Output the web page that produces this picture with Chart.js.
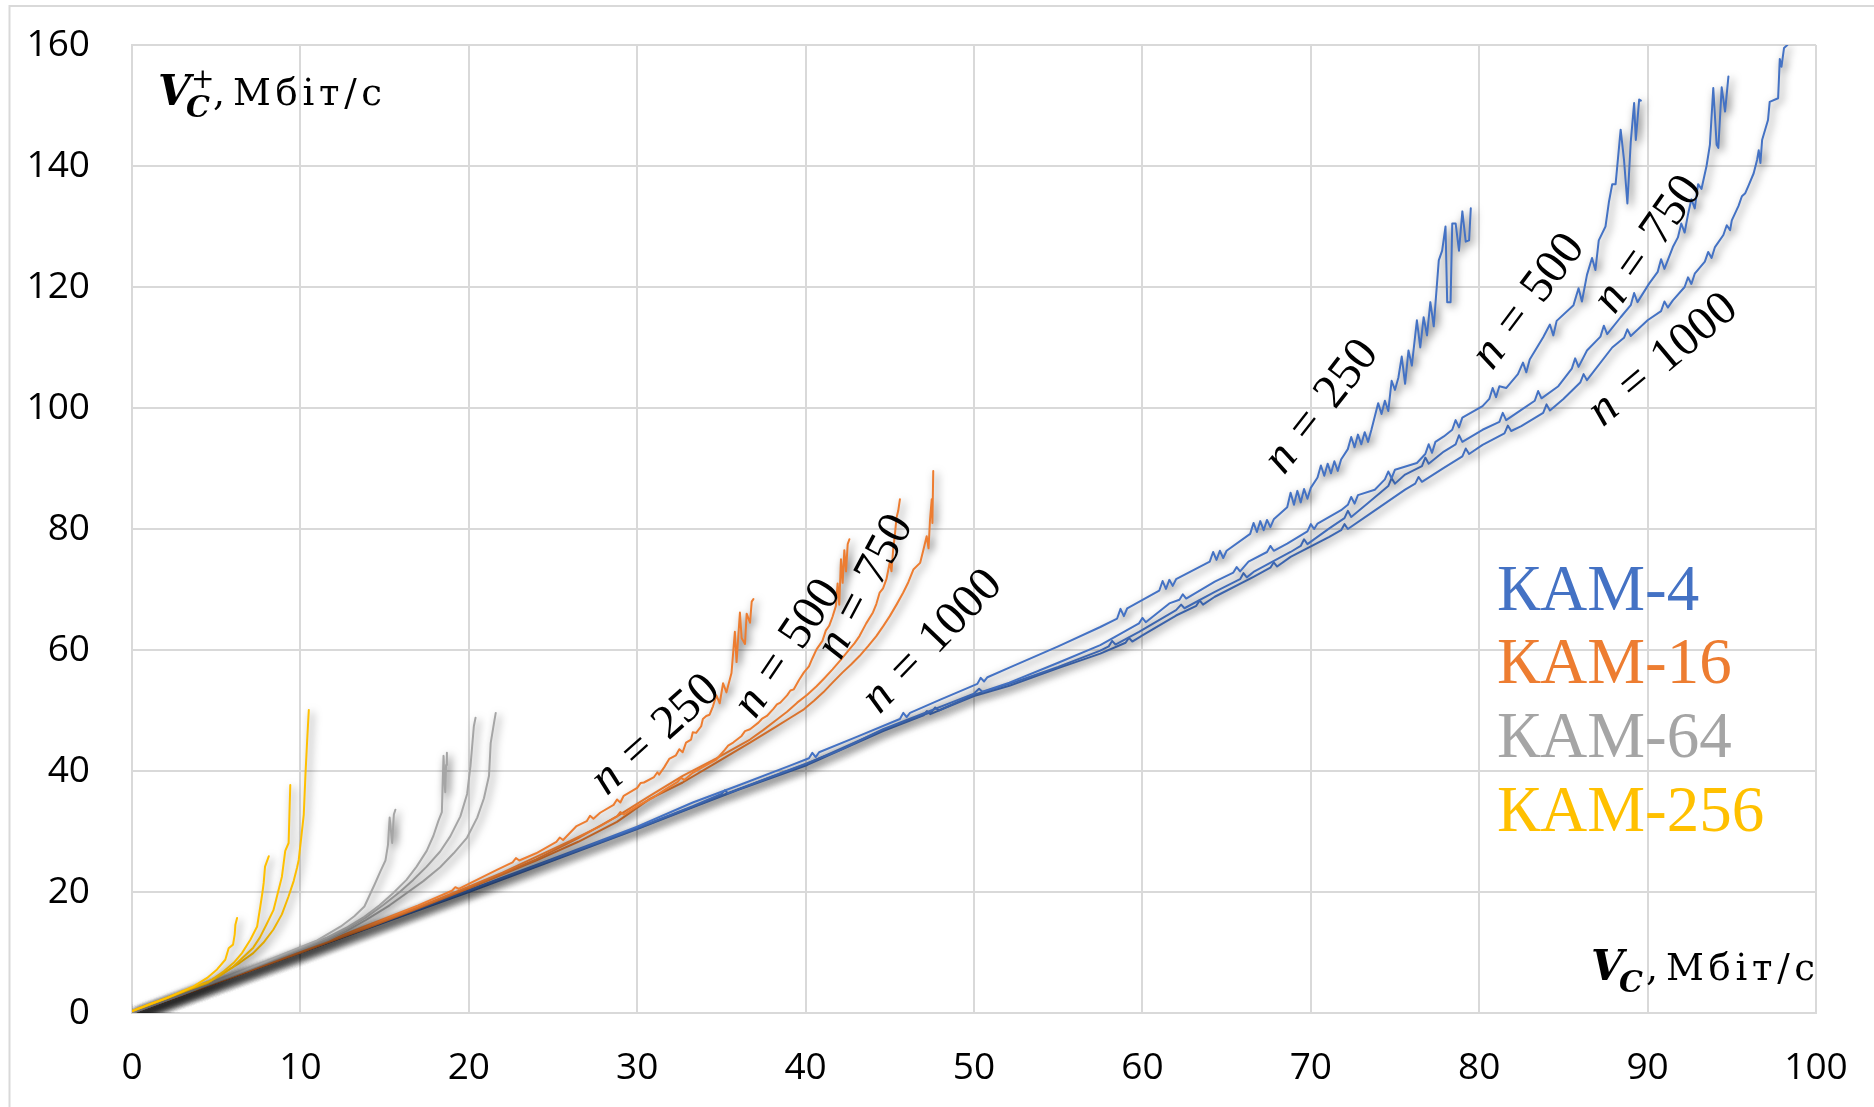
<!DOCTYPE html>
<html>
<head>
<meta charset="utf-8">
<script src="https://cdn.jsdelivr.net/npm/chart.js@4.4.0/dist/chart.umd.min.js"></script>
<style>
html,body{margin:0;padding:0;background:#fff;}
#wrap{position:relative;width:1874px;height:1107px;}
</style>
</head>
<body>
<div id="wrap"><canvas id="c" width="1874" height="1107"></canvas></div>
<script>
// ---------- tick labels ----------
const xTickValues = [0,10,20,30,40,50,60,70,80,90,100];
const yTickValues = [0,20,40,60,80,100,120,140,160];
const nValues = [250,500,750,1000];
const seriesNames = ['КАМ-4','КАМ-16','КАМ-64','КАМ-256'];

// ---------- КАМ-4 (V_C, V_C+) ----------
const kam4_250 = [[0,0],[5,5],[10,10.1],[15,15.2],[20,20.3],[25,25.5],[30,30.8],[33.3,34.8],[36,37.6],[39,40.8],[40.2,42.1],[40.4,43],[40.6,42.3],[40.8,43.1],[43,45.6],[45.6,48.6],[45.8,49.6],[46,48.9],[46.2,49.6],[48,51.8],[50.2,54.4],[50.4,55.4],[50.6,54.8],[50.8,55.5],[52.1,57.1],[55,60.6],[57.5,63.8],[58.5,65.2],[58.7,66.8],[58.9,65.6],[59.1,66.9],[61,69.8],[61.2,71.4],[61.4,70.1],[61.6,71.6],[61.8,70.6],[62,71.7],[64,74.6],[64.2,76.2],[64.4,74.9],[64.6,76.4],[64.8,75.2],[65,76.4],[66.4,79.2],[66.6,81],[66.8,79.5],[67,81.3],[67.2,79.8],[67.4,81.5],[67.6,80.3],[67.8,81.6],[68.6,83.6],[68.8,86],[69,84],[69.2,86.3],[69.4,84.4],[69.6,86.6],[69.8,85],[70,86.8],[70.4,88.5],[70.6,90.5],[70.8,88.8],[71,90.8],[71.2,89.2],[71.4,91.2],[71.6,89.6],[71.8,91.5],[72.2,93.2],[72.4,95.2],[72.6,93.5],[72.8,95.6],[73,94],[73.2,96],[73.4,94.4],[73.6,96.4],[73.8,98.6],[74,100.8],[74.2,99],[74.4,101.2],[74.6,99.5],[74.8,104.5],[75,103],[75.2,105],[75.4,108.5],[75.6,104],[75.8,109.5],[76,107],[76.3,114.5],[76.5,110],[76.7,115],[76.9,112],[77.1,117.5],[77.3,113.5],[77.6,124.4],[77.8,126],[78,130],[78.1,117.5],[78.3,117.5],[78.4,130.5],[78.6,130.5],[78.8,126],[79,132.5],[79.2,127.5],[79.4,127.7],[79.5,133]];
const kam4_500 = [[0,0],[10,10],[20,20.2],[30,30.6],[33.3,34.2],[35,36.2],[35.2,36.8],[35.4,36.3],[38,39.1],[40.1,41.3],[42,43.4],[44.6,46.9],[47,49.5],[50,52.8],[50.3,53.6],[50.5,53.1],[52.1,54.6],[55,57.9],[57.5,60.8],[59.8,64.4],[60,65.3],[60.2,64.6],[61.6,67.7],[62.2,68.3],[62.4,69.2],[62.6,68.5],[64.3,71.3],[65.4,72.8],[65.6,73.7],[65.8,73],[66.3,74.6],[67.4,76.2],[67.6,77.2],[67.8,76.4],[68.6,77.6],[69.8,79.6],[70,80.8],[70.2,80],[70.4,80.9],[71.8,83.1],[72.2,84],[72.4,85.3],[72.6,84.2],[72.8,85.6],[73.8,86.5],[74.4,88.2],[74.6,89.5],[74.8,88.4],[75,89.8],[76.3,90.9],[76.8,92.4],[77,94],[77.2,92.6],[77.4,94.4],[77.9,95.3],[78.4,96.4],[78.6,98],[78.8,96.8],[79,98.4],[80.2,100.3],[80.6,101.5],[80.8,103.3],[81,101.8],[81.2,103.6],[81.6,103.3],[82.3,105.6],[82.6,107.5],[82.8,105.9],[83,108],[83.8,111.7],[84.2,113.8],[84.4,112],[84.6,114.4],[85.6,117],[85.9,119.8],[86.1,117.6],[86.4,122],[86.7,124.8],[86.9,122.8],[87.1,127.7],[87.5,130],[87.7,134],[87.9,137],[88.1,137],[88.4,146],[88.6,141],[88.8,133.8],[89,144],[89.2,150.4],[89.3,144.3],[89.5,151],[89.6,150.8]];
const kam4_750 = [[0,0],[10,10],[20,20.1],[30,30.5],[33.3,34.1],[36,37],[40.1,41.2],[44.6,46.8],[47.5,49.8],[47.7,50.5],[47.9,50],[50,52.6],[52.1,54.4],[55,57.2],[57.5,59.9],[58,60.6],[58.2,61.5],[58.4,60.9],[59.8,63],[62,66.6],[62.3,67.5],[62.5,66.9],[64.3,69.6],[65.8,71.7],[66,72.7],[66.2,72],[66.6,72.9],[68.8,76.2],[69.4,77.2],[69.6,78.3],[69.8,77.5],[71.1,80.1],[72,81.8],[72.2,83],[72.4,82],[73.4,84.3],[74.6,87.1],[74.8,88.4],[75,87.5],[75.6,89],[76.6,90.4],[76.8,91.8],[77,90.8],[77.9,92.8],[78.6,94],[78.8,95.5],[79,94.4],[80.2,96.4],[81.2,97.7],[81.4,99.2],[81.6,98],[82.5,99.7],[83.3,101.2],[83.5,102.8],[83.7,101.6],[84.7,103.6],[85.5,106.5],[85.7,108.2],[85.9,106.8],[86.4,109.5],[87.2,111.8],[87.4,113.6],[87.6,112.2],[88.4,115],[89,117],[89.2,119],[89.4,117.5],[90.1,120.6],[90.6,122.5],[90.8,124.6],[91,123],[91.5,126.6],[91.8,128.2],[92,130.5],[92.2,129],[92.4,132],[92.6,134.5],[92.8,133],[93,137],[93.2,136.2],[93.5,140],[93.7,143.5],[93.9,152.9],[94.1,143.5],[94.2,143],[94.4,153],[94.6,149],[94.8,154.8]];
const kam4_1000 = [[0,0],[10,10],[20,20],[30,30.4],[33.3,34],[36,36.9],[40.1,41],[44.6,46.6],[47,49.2],[47.2,49.9],[47.4,49.4],[50,52.4],[52.1,54.1],[55,57],[57.5,59.4],[59,61.2],[59.2,62],[59.4,61.4],[60,62.4],[62,65.7],[63.2,67.3],[63.4,68.2],[63.6,67.5],[64.3,68.8],[66.6,72.1],[67.6,73.6],[67.8,74.5],[68,73.8],[68.8,75.4],[71.1,78.7],[71.8,79.8],[72,80.8],[72.2,80],[73.4,82.3],[75.6,86.5],[76.2,87.5],[76.4,88.6],[76.6,87.8],[77.9,90.1],[79,92],[79.2,93.3],[79.4,92.4],[80.2,93.9],[81.5,95.8],[81.7,97.1],[81.9,96.2],[82.5,97],[83.8,99.2],[84,100.6],[84.2,99.6],[85,101.5],[86,104.2],[86.2,105.6],[86.4,104.6],[87.9,110],[88.6,111.6],[88.8,113],[89,111.9],[90,114.5],[90.8,116],[91,117.6],[91.2,116.6],[91.5,117.8],[92.2,120],[92.4,121.6],[92.6,120.5],[92.8,122.2],[93.4,124.2],[93.6,125.8],[93.8,124.8],[94,126.6],[94.5,128.6],[94.7,130.2],[94.9,129.4],[95,131],[95.4,133.4],[95.6,135],[95.8,135.5],[96,136.8],[96.3,138.8],[96.5,141],[96.6,142.6],[96.7,140.5],[96.8,144.3],[97.15,147.6],[97.25,150.6],[97.75,151.2],[97.85,157.7],[97.95,156.4],[98.1,159.5],[98.3,160]];

// ---------- КАМ-16 ----------
const kam16_250 = [[0,0],[5,5],[10,10.1],[14,14.5],[17,17.8],[19,20.2],[19.2,20.8],[19.4,20.5],[21.7,23.7],[22.6,24.9],[22.8,25.6],[23,25.2],[24,26.4],[25.2,28.3],[25.4,29],[25.6,28.6],[26.4,30.9],[27,31.7],[27.2,32.6],[27.4,32.1],[27.8,33.1],[28.6,34.4],[28.8,35.3],[29,34.8],[29.2,35.9],[30,37.2],[30.2,38],[30.4,38.1],[31,39],[31.2,39.8],[31.3,39.4],[31.6,40.6],[31.9,42],[32.3,42.6],[32.5,43.6],[32.7,43.1],[32.9,44.7],[33.2,45.2],[33.3,46.4],[33.5,46.3],[33.8,47.4],[33.9,48.6],[34.1,49.1],[34.3,49.3],[34.5,50.7],[34.7,52.5],[34.9,51.2],[35.1,54.5],[35.3,53],[35.6,56.2],[35.8,63],[35.9,58],[36.1,66.2],[36.2,62],[36.4,61],[36.5,66],[36.7,64.5],[36.8,68],[36.9,68.4]];
const kam16_500 = [[0,0],[5,5],[10,10],[14,14.3],[17,17.5],[20,20.9],[22,23.2],[24,25.8],[26,28.4],[27.8,30.9],[28.8,32.5],[29,33.2],[29.2,32.8],[30,34.2],[31,35.7],[31.7,37],[32.4,38.2],[32.6,38.9],[32.8,38.5],[33.3,39.7],[34,40.8],[34.7,41.9],[35.2,43.5],[35.4,44.2],[35.7,44.7],[36.2,45.8],[36.4,46.6],[36.7,46.9],[37.2,48],[37.4,48.6],[37.7,49.1],[38.1,50.3],[38.3,51],[38.5,51.3],[38.9,52.5],[39.1,53.3],[39.3,53.5],[39.6,55],[39.9,56.3],[40.2,57.3],[40.4,58.6],[40.65,60.1],[41,61.5],[41.2,63.2],[41.4,64],[41.6,65.5],[41.8,67.3],[41.9,71],[42,67.5],[42.1,75],[42.2,71.1],[42.3,76.5],[42.4,73],[42.5,77.5],[42.6,78.3]];
const kam16_750 = [[0,0],[5,5],[10,10],[14,14.2],[17,17.4],[20,20.7],[24,25.4],[26.5,28.9],[28.8,32.5],[30.75,35.9],[32.7,39.2],[34.7,42.1],[36.7,45.2],[37.5,46.8],[38.3,48.5],[38.9,49.8],[39.5,51.3],[40.1,52.6],[40.65,54],[41.1,55.3],[41.6,56.8],[42.1,58.4],[42.6,60.1],[42.9,61.1],[43.2,62.3],[43.6,64.4],[44,66.2],[44.2,67.6],[44.4,69.5],[44.6,70.2],[44.8,71.7],[45,74.5],[45.1,73],[45.2,76.6],[45.3,79],[45.4,81.9],[45.5,83],[45.6,84.9]];
const kam16_1000 = [[0,0],[5,5],[10,10],[14,14.1],[17,17.3],[20,20.6],[24,25.2],[26.5,28.3],[28.8,31.6],[30.75,35.4],[32.7,38.1],[34.7,41.4],[36.7,44.7],[38.3,47.4],[39.1,48.8],[39.9,50.2],[40.5,51.6],[41.05,53],[41.6,54.6],[42.2,56.3],[42.7,57.6],[43.2,59],[43.7,60.6],[44.2,62.3],[44.6,63.9],[45,65.6],[45.4,67.5],[45.8,69.5],[46.1,71.2],[46.4,73.3],[46.8,74.4],[47,76.6],[47.19,78.8],[47.3,76.8],[47.39,81.6],[47.49,84.9],[47.53,81],[47.58,89.6]];

// ---------- КАМ-64 ----------
const kam64_250 = [[0,0],[3,3.1],[6,6.4],[8,8.6],[10,10.9],[11,12],[11.6,13],[12.4,14.3],[13.2,16],[13.8,17.6],[14.2,20],[14.4,21.2],[14.75,23.4],[15.05,25.2],[15.2,27.8],[15.3,32.3],[15.4,29.5],[15.45,28.1],[15.55,32.8],[15.64,33.6]];
const kam64_500 = [[0,0],[3,3.1],[6,6.3],[8,8.5],[10,10.7],[11.6,12.5],[12.8,14.2],[13.8,15.9],[14.7,17.8],[15.5,19.8],[16.3,22],[16.9,24.2],[17.5,26.8],[17.9,29.3],[18.2,31.8],[18.4,33.2],[18.45,38],[18.5,42.5],[18.55,38.6],[18.6,36.5],[18.65,41],[18.7,43]];
const kam64_750 = [[0,0],[3,3.1],[6,6.2],[8,8.4],[10,10.5],[11.6,12.2],[12.7,13.8],[13.9,15.8],[14.9,17.8],[15.9,20],[16.7,22],[17.5,24.2],[18.3,26.7],[18.9,29.2],[19.5,32.5],[19.9,36.2],[20.1,40.8],[20.3,47.4],[20.4,48.8]];
const kam64_1000 = [[0,0],[3,3.1],[6,6.2],[8,8.3],[10,10.4],[11.6,12],[12.7,13.5],[13.9,15.4],[15.3,17.8],[16.3,19.8],[17.3,21.8],[18.3,24.1],[19.1,26.4],[19.9,29],[20.5,32.3],[20.9,35.5],[21.2,39.2],[21.3,44.6],[21.5,48],[21.6,49.6]];

// ---------- КАМ-256 ----------
const kam256_250 = [[0,0.3],[1,1.4],[2.08,2.5],[3,3.6],[3.66,4.4],[4.46,5.8],[5.05,7.2],[5.54,8.8],[5.74,10.7],[6,11.3],[6.1,13],[6.14,14.6],[6.24,15.7]];
const kam256_500 = [[0,0.3],[2,2.4],[3.5,4.1],[4.65,5.3],[5.45,6.9],[6.04,8.3],[6.53,9.9],[7.03,12.1],[7.43,14.3],[7.62,17.6],[7.75,20],[7.82,21.5],[7.9,24.2],[8.12,25.9]];
const kam256_750 = [[0,0.3],[2,2.4],[3.5,4],[4.5,5],[5.25,6.2],[6,7.6],[6.6,9.2],[7.2,10.8],[7.6,12.5],[8,14.7],[8.4,17],[8.7,20.3],[8.9,22.5],[9.1,26.8],[9.3,28.1],[9.35,33],[9.4,37.7]];
const kam256_1000 = [[0,0.3],[2,2.4],[3.5,4],[4.5,5],[5.6,6.9],[6.4,8.3],[7.2,9.9],[7.8,11.6],[8.4,13.8],[8.9,16.3],[9.3,19.3],[9.6,21.8],[9.8,24],[9.9,25.3],[10.05,29],[10.2,32.8],[10.3,39.4],[10.4,45],[10.5,50.1]];

// ---------- styling / layout (not data) ----------
const colors = {'КАМ-4':'#4472C4','КАМ-16':'#ED7D31','КАМ-64':'#A5A5A5','КАМ-256':'#FFC000'};
const groups = [
  {name:'КАМ-256', curves:[kam256_250,kam256_500,kam256_750,kam256_1000]},
  {name:'КАМ-64',  curves:[kam64_250,kam64_500,kam64_750,kam64_1000]},
  {name:'КАМ-16',  curves:[kam16_250,kam16_500,kam16_750,kam16_1000]},
  {name:'КАМ-4',   curves:[kam4_250,kam4_500,kam4_750,kam4_1000]}
];
// label anchors in data coordinates
const nLabelPos = [
  {n:250,  x:30.98, y:46.3,  a:-42},
  {n:500,  x:38.8,  y:60.5,  a:-56},
  {n:750,  x:43.4,  y:70.7,  a:-62},
  {n:1000, x:47.4,  y:61.7,  a:-46},
  {n:250,  x:70.5,  y:100.5, a:-52},
  {n:500,  x:82.8,  y:117.9, a:-53},
  {n:750,  x:89.9,  y:127.3, a:-55},
  {n:1000, x:90.8,  y:108.3, a:-40}
];

const datasets = [];
groups.forEach(g => g.curves.forEach((c, i) => {
  datasets.push({
    label: g.name + ' n=' + nValues[i],
    data: c.map(p => ({x:p[0], y:p[1]})),
    borderColor: colors[g.name],
    backgroundColor: colors[g.name],
    borderWidth: 2,
    pointRadius: 0,
    showLine: true,
    fill: false,
    tension: 0
  });
}));

const shadowPlugin = {
  id: 'shadow',
  beforeDatasetDraw(chart) {
    const ctx = chart.ctx;
    ctx.save();
    ctx.shadowColor = 'rgba(0,0,0,0.6)';
    ctx.shadowBlur = 8;
    ctx.shadowOffsetX = 3;
    ctx.shadowOffsetY = 3;
  },
  afterDatasetDraw(chart) { chart.ctx.restore(); }
};

function drawNLabel(ctx, cx, cy, angleDeg, num) {
  const fs = 48;
  const fIt = 'italic ' + fs + 'px "Liberation Serif"';
  const fRe = fs + 'px "Liberation Serif"';
  ctx.font = fIt; const wn = ctx.measureText('n').width;
  ctx.font = fRe; const we = ctx.measureText('=').width;
  const wd = ctx.measureText(String(num)).width;
  const gap = 16;
  const total = wn + gap + we + gap + wd;
  ctx.save();
  ctx.translate(cx, cy);
  ctx.rotate(angleDeg * Math.PI / 180);
  ctx.fillStyle = '#000';
  ctx.textBaseline = 'alphabetic';
  ctx.textAlign = 'left';
  const base = fs * 0.33;
  let x = -total / 2;
  ctx.font = fIt; ctx.fillText('n', x, base); x += wn + gap;
  ctx.font = fRe; ctx.fillText('=', x, base); x += we + gap;
  ctx.fillText(String(num), x, base);
  ctx.restore();
}

function drawSpaced(ctx, text, x, y, targetW) {
  const chars = Array.from(text);
  const ws = chars.map(c => ctx.measureText(c).width);
  const nat = ws.reduce((a, b) => a + b, 0);
  const extra = chars.length > 1 ? Math.max(0, (targetW - nat) / (chars.length - 1)) : 0;
  let cx = x;
  chars.forEach((c, i) => { ctx.fillText(c, cx, y); cx += ws[i] + extra; });
}

function drawAxisTitle(ctx, x, y, plus) {
  // x = left of V, y = baseline
  ctx.save();
  ctx.fillStyle = '#000';
  ctx.textBaseline = 'alphabetic';
  ctx.textAlign = 'left';
  ctx.font = 'italic bold 42px "DejaVu Serif"';
  ctx.fillText('V', x - 2, y);
  ctx.font = 'italic bold 30px "DejaVu Serif"';
  ctx.fillText('C', x + 26, y + 12);
  if (plus) {
    ctx.font = '28px "DejaVu Serif"';
    ctx.fillText('+', x + 31, y - 17);
  }
  ctx.font = '38px "DejaVu Serif"';
  ctx.fillText(',', x + 53, y);
  ctx.font = '37px "DejaVu Serif"';
  drawSpaced(ctx, 'Мбіт/с', x + 73, y, 149);
  ctx.restore();
}

const annotPlugin = {
  id: 'annot',
  afterDraw(chart) {
    const ctx = chart.ctx, xs = chart.scales.x, ys = chart.scales.y;
    ctx.save();
    // outer chart border
    ctx.strokeStyle = '#D9D9D9';
    ctx.lineWidth = 2;
    ctx.beginPath();
    ctx.moveTo(9.5, 1107); ctx.lineTo(9.5, 6); ctx.lineTo(1874, 6);
    ctx.stroke();
    // axis titles
    drawAxisTitle(ctx, 160, 105, true);
    drawAxisTitle(ctx, 1593, 980, false);
    // series labels
    ctx.font = '65px "Liberation Serif"';
    ctx.textBaseline = 'alphabetic';
    ctx.textAlign = 'left';
    const baselines = [610, 683, 757, 831];
    seriesNames.forEach((s, i) => {
      ctx.fillStyle = colors[s];
      ctx.fillText(s, 1497, baselines[i]);
    });
    // n labels
    nLabelPos.forEach(p => {
      drawNLabel(ctx, xs.getPixelForValue(p.x), ys.getPixelForValue(p.y), p.a, p.n);
    });
    ctx.restore();
  }
};

const tickFont = {family: '"Open Sans", "Liberation Sans", sans-serif', size: 37};

new Chart(document.getElementById('c'), {
  type: 'scatter',
  data: {datasets},
  options: {
    responsive: false,
    animation: false,
    devicePixelRatio: 1,
    layout: {padding: {left: 0, top: 45, right: 58, bottom: 0}},
    plugins: {legend: {display: false}, tooltip: {enabled: false}},
    elements: {line: {borderCapStyle: 'round', borderJoinStyle: 'round'}},
    scales: {
      x: {
        type: 'linear', min: 0, max: 100,
        afterBuildTicks: s => { s.ticks = xTickValues.map(v => ({value: v})); },
        afterFit: s => { s.height = 94; s.paddingLeft = 0; s.paddingRight = 0; s.paddingTop = 0; s.paddingBottom = 0; },
        ticks: {font: tickFont, color: '#000', padding: 33, maxRotation: 0, autoSkip: false,
                callback: v => String(v)},
        grid: {color: '#D9D9D9', lineWidth: 2, drawTicks: false},
        border: {color: '#D9D9D9', width: 2}
      },
      y: {
        type: 'linear', min: 0, max: 160,
        afterBuildTicks: s => { s.ticks = yTickValues.map(v => ({value: v})); },
        afterFit: s => { s.width = 132; s.paddingLeft = 0; s.paddingRight = 0; s.paddingTop = 0; s.paddingBottom = 0; },
        ticks: {font: tickFont, color: '#000', padding: 42, autoSkip: false,
                callback: v => String(v)},
        grid: {color: '#D9D9D9', lineWidth: 2, drawTicks: false},
        border: {color: '#D9D9D9', width: 2}
      }
    }
  },
  plugins: [shadowPlugin, annotPlugin]
});
</script>
</body>
</html>
